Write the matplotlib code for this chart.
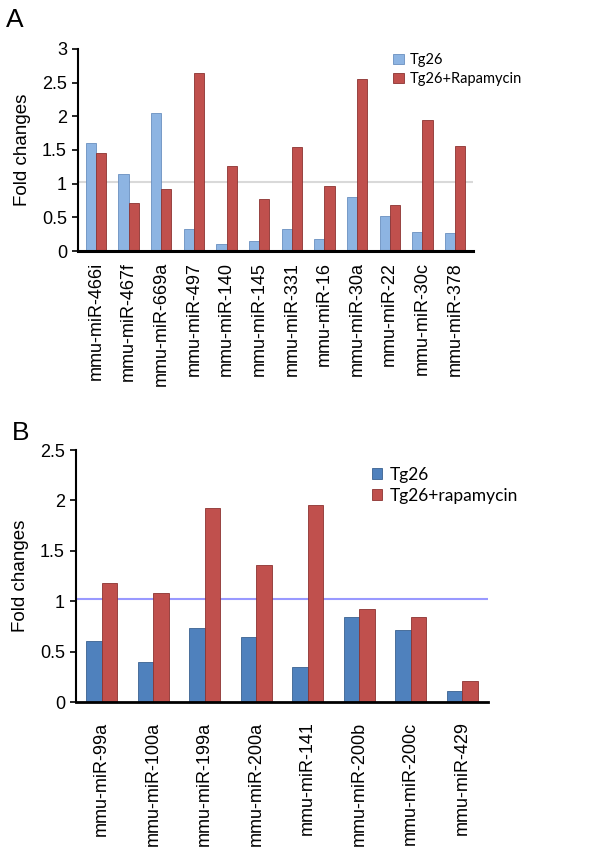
import numpy as np
import matplotlib
matplotlib.use('Agg')
import matplotlib.pyplot as plt

plt.rcParams['font.family'] = ['Liberation Sans', 'DejaVu Sans']

# panel A data
mirs_a = ['mmu-miR-466i', 'mmu-miR-467f', 'mmu-miR-669a', 'mmu-miR-497',
          'mmu-miR-140', 'mmu-miR-145', 'mmu-miR-331', 'mmu-miR-16',
          'mmu-miR-30a', 'mmu-miR-22', 'mmu-miR-30c', 'mmu-miR-378']
tg26_a = [1.61, 1.15, 2.05, 0.33, 0.10, 0.15, 0.32, 0.18, 0.80, 0.52, 0.28, 0.27]
rapa_a = [1.45, 0.71, 0.92, 2.65, 1.26, 0.77, 1.55, 0.97, 2.55, 0.68, 1.95, 1.56]

# panel B data
mirs_b = ['mmu-miR-99a', 'mmu-miR-100a', 'mmu-miR-199a', 'mmu-miR-200a',
          'mmu-miR-141', 'mmu-miR-200b', 'mmu-miR-200c', 'mmu-miR-429']
tg26_b = [0.61, 0.40, 0.73, 0.64, 0.35, 0.84, 0.71, 0.11]
rapa_b = [1.18, 1.08, 1.92, 1.36, 1.95, 0.92, 0.84, 0.21]

W, H = 601, 855
fig = plt.figure(figsize=(W / 100, H / 100), dpi=100)

def px_axes(l, r, t, b):
    return fig.add_axes([l / W, 1 - b / H, (r - l) / W, (b - t) / H])

def style(ax, lw_bottom):
    for s in ['top', 'right']:
        ax.spines[s].set_visible(False)
    ax.spines['left'].set_linewidth(1.5)
    ax.spines['bottom'].set_linewidth(lw_bottom)
    ax.tick_params(axis='x', length=0, labelsize=13, pad=8)
    ax.tick_params(axis='y', length=4, width=1.2, labelsize=13, pad=4)
    ax.set_ylabel('Fold changes', fontsize=13.5, labelpad=8)

# ---- A ----
axA = px_axes(78, 473, 49, 251)
x = np.arange(len(mirs_a))
bw = 0.31
axA.axhline(1.02, color='#d9d9d9', lw=1.5, zorder=0)
axA.bar(x - bw / 2, tg26_a, bw, color='#8db4e2', edgecolor='#6a8fbf', lw=0.6, label='Tg26')
axA.bar(x + bw / 2, rapa_a, bw, color='#c0504d', edgecolor='#8c3331', lw=0.6, label='Tg26+Rapamycin')
axA.set_xlim(-0.55, len(mirs_a) - 0.45)
axA.set_ylim(0, 3)
axA.set_yticks([0, 0.5, 1, 1.5, 2, 2.5, 3])
axA.set_yticklabels(['0', '0.5', '1', '1.5', '2', '2.5', '3'])
axA.set_xticks(x)
axA.set_xticklabels(mirs_a, rotation=90)
style(axA, 2.2)
axA.legend(loc='upper left', bbox_to_anchor=(386 / W, 1 - 46 / H), bbox_transform=fig.transFigure,
           frameon=False, prop={'family': 'Lato', 'size': 10.5}, handlelength=0.7, handleheight=0.7,
           handletextpad=0.45, labelspacing=0.35, borderpad=0)

# ---- B ----
axB = px_axes(76, 488, 450, 702)
x = np.arange(len(mirs_b))
bw = 0.3
axB.axhline(1.02, color='#9999ff', lw=1.5, zorder=0)
axB.bar(x - bw / 2, tg26_b, bw, color='#4f81bd', edgecolor='#3a6190', lw=0.6, label='Tg26')
axB.bar(x + bw / 2, rapa_b, bw, color='#c0504d', edgecolor='#8c3331', lw=0.6, label='Tg26+rapamycin')
axB.set_xlim(-0.5, len(mirs_b) - 0.5)
axB.set_ylim(0, 2.5)
axB.set_yticks([0, 0.5, 1, 1.5, 2, 2.5])
axB.set_yticklabels(['0', '0.5', '1', '1.5', '2', '2.5'])
axB.set_xticks(x)
axB.set_xticklabels(mirs_b, rotation=90)
style(axB, 2.0)
axB.tick_params(axis='x', pad=14)
axB.legend(loc='upper left', bbox_to_anchor=(363 / W, 1 - 458 / H), bbox_transform=fig.transFigure,
           frameon=False, prop={'family': 'Lato', 'size': 12.5}, handlelength=0.6, handleheight=0.6,
           handletextpad=0.45, labelspacing=0.3, borderpad=0)

fig.text(6 / W, 1 - 8 / H, 'A', fontsize=19, va='top', ha='left')
fig.text(12 / W, 1 - 421 / H, 'B', fontsize=19, va='top', ha='left')

fig.savefig('out.png', dpi=100)
